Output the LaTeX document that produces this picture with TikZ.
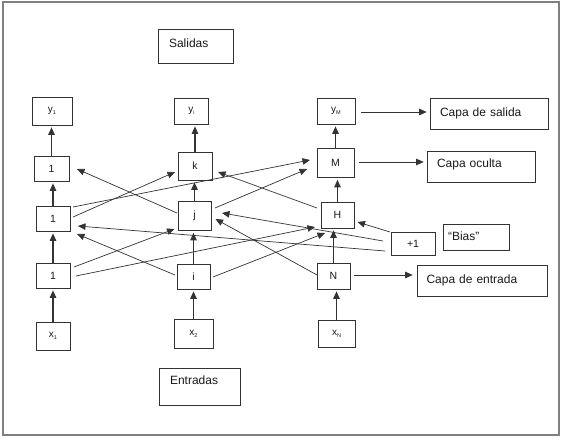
\documentclass[tikz,border=0pt]{standalone}
\usepackage{fontspec}
\setmainfont{Liberation Sans}
\usetikzlibrary{arrows.meta,calc}
\newcommand{\subl}[2]{#1\raisebox{-0.35ex}{\fontsize{5.5}{6}\selectfont #2}}
\begin{document}
\begin{tikzpicture}[x=1pt,y=-1pt,
  nbox/.style={draw=black!80, line width=0.7pt, inner sep=0pt, font=\fontsize{10.5}{11}\selectfont, text=black!90},
  ybox/.style={nbox, font=\fontsize{10}{11}\selectfont},
  lbox/.style={draw=black!80, line width=0.7pt, inner xsep=10pt, inner ysep=0pt, align=left, font=\fontsize{12}{14}\selectfont, text=black!90},
  arr/.style={-{Triangle[length=7.5pt,width=6.5pt]}, line width=0.7pt, draw=black!80},
  varr/.style={arr, line width=1.1pt, shorten >=2pt}]
\useasboundingbox (0,0) rectangle (567,439);
\draw[gray, line width=1.2pt] (3,2) rectangle (559,435);

% label boxes
\node[lbox, minimum width=75pt, minimum height=34pt, text width=53pt, inner xsep=11pt] (sal) at (195.5,46) {\raisebox{6pt}{Salidas}};
\node[lbox, minimum width=81pt, minimum height=37pt, text width=59pt, inner xsep=11pt] (ent) at (199.5,386.5) {\raisebox{12pt}{Entradas}};
\node[lbox, minimum width=118pt, minimum height=31pt, text width=98pt] (cs) at (489,113.5) {Capa de salida};
\node[lbox, minimum width=108pt, minimum height=31pt, text width=88pt] (co) at (481,166.5) {\raisebox{7pt}{Capa oculta}};
\node[lbox, minimum width=130pt, minimum height=31pt, text width=111pt, inner xsep=9.5pt] (ce) at (482,280.5) {\raisebox{3pt}{Capa de entrada}};
\node[lbox, minimum width=66pt, minimum height=26pt, text width=56pt, inner xsep=5pt] (bias) at (476,237) {\raisebox{2pt}{``Bias''}};
\node[nbox, minimum width=44pt, minimum height=23pt] (p1) at (413,243.5) {+1};

% output layer
\node[ybox, minimum width=40pt, minimum height=28pt] (y1) at (52,111) {\subl{y}{1}};
\node[ybox, minimum width=34pt, minimum height=26pt] (yi) at (191.5,111) {\subl{y}{i}};
\node[ybox, minimum width=38pt, minimum height=26pt] (yM) at (336,111) {\subl{y}{M}};
% hidden layer 2
\node[nbox, minimum width=35pt, minimum height=25pt] (t1) at (51.5,168.5) {1};
\node[nbox, minimum width=34pt, minimum height=28pt] (k) at (195,166) {k};
\node[nbox, minimum width=37pt, minimum height=29pt] (M) at (335.5,163) {M};
% hidden layer 1
\node[nbox, minimum width=34pt, minimum height=25pt] (m1) at (53,218.5) {1};
\node[nbox, minimum width=33pt, minimum height=29pt] (j) at (194.5,216) {j};
\node[nbox, minimum width=33pt, minimum height=26pt] (H) at (337.5,215) {H};
% input layer
\node[nbox, minimum width=34pt, minimum height=25pt] (b1) at (53,275.5) {1};
\node[nbox, minimum width=33pt, minimum height=25pt] (i) at (193.5,276.5) {i};
\node[nbox, minimum width=33pt, minimum height=26pt] (N) at (333.5,276) {N};
% inputs
\node[ybox, minimum width=34pt, minimum height=28pt] (x1) at (53,336) {\subl{x}{1}};
\node[ybox, minimum width=39pt, minimum height=29pt] (x2) at (193.5,333.5) {\subl{x}{2}};
\node[ybox, minimum width=37pt, minimum height=27pt] (xN) at (336.5,333.5) {\subl{x}{N}};

% vertical arrows
\foreach \a/\b in {x1/b1, b1/m1, m1/t1, t1/y1, x2/i, i/j, j/k, k/yi, xN/N, N/H, H/M, M/yM}
  \draw[varr] (\a.north) -- (\a.north |- \b.south);

% horizontal arrows to labels
\draw[arr] ($(yM.east)+(6,1)$) -- ($(cs.west)+(-3,-1.5)$);
\draw[arr] ($(M.east)+(5,-1)$) -- ($(co.west)+(-3,-4.5)$);
\draw[arr] ($(N.east)+(4,-1)$) -- ($(ce.west)+(-4,-5.5)$);

% diagonal connections
\draw[arr] ($(j.center)+(-17.5,-3)$) -- ($(t1.center)+(25.5,0.5)$);
\draw[arr] ($(m1.center)+(20,-1.5)$) -- ($(k.center)+(-20,6)$);
\draw[arr] ($(m1.center)+(20,-11.5)$) -- ($(M.center)+(-25.5,-3)$);
\draw[arr] ($(p1.center)+(-28,7.5)$) -- ($(m1.center)+(25,7.5)$);
\draw[arr] ($(i.center)+(-18.5,-1.5)$) -- ($(m1.center)+(24,15.5)$);
\draw[arr] ($(b1.center)+(21,-8.5)$) -- ($(j.center)+(-20,13)$);
\draw[arr] ($(b1.center)+(23,0.5)$) -- ($(H.center)+(-22.5,12)$);
\draw[arr] ($(i.center)+(19.5,0.5)$) -- ($(H.center)+(-12.5,18)$);
\draw[arr] ($(j.center)+(20.5,-8)$) -- ($(M.center)+(-28.5,6)$);
\draw[arr] ($(H.center)+(-20.5,-7)$) -- ($(k.center)+(23,6)$);
\draw[arr] ($(p1.center)+(-30,-2.5)$) -- ($(j.center)+(27.5,-3)$);
\draw[arr] ($(N.center)+(-16.5,-1)$) -- ($(j.center)+(21,3)$);
\draw[arr] ($(p1.center)+(-23,-11.5)$) -- ($(H.center)+(20,7)$);
\end{tikzpicture}
\end{document}
